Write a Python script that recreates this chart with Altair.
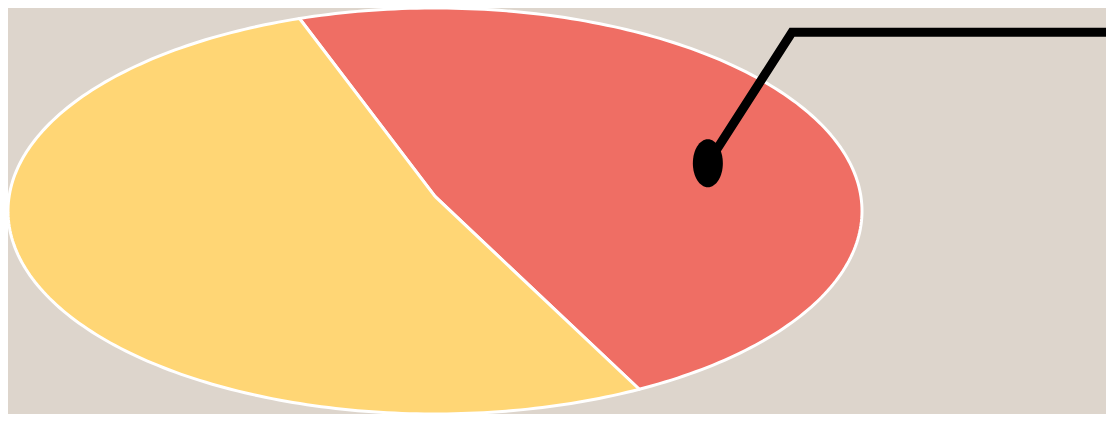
import math
import altair as alt
import pandas as pd

# ---- data ----
categories = ["Slice A", "Slice B"]
values = [47.2, 52.8]
colors = ["#ef6e64", "#ffd675"]
start_angle_deg = -18.5          # where the first slice starts (clockwise from 12 o'clock)
pie_center = (0.0, 0.072)        # apex of the slices, in unit ellipse coords
callout_x = [0.639, 0.836, 1.60]
callout_y = [0.235, 0.880, 0.880]

# ---- build slice outlines on the unit circle; x/y scales stretch it to an ellipse ----
rows = []
total = sum(values)
a = start_angle_deg
for cat, v in zip(categories, values):
    span = 360.0 * v / total
    n = max(2, int(span))
    rows.append({"cat": cat, "i": 0, "ux": pie_center[0], "uy": pie_center[1]})
    for k in range(n + 1):
        ang = math.radians(a + span * k / n)
        rows.append({"cat": cat, "i": k + 1, "ux": math.sin(ang), "uy": math.cos(ang)})
    rows.append({"cat": cat, "i": n + 2, "ux": pie_center[0], "uy": pie_center[1]})
    a += span
pie_df = pd.DataFrame(rows)

call_df = pd.DataFrame({"i": list(range(len(callout_x))), "ux": callout_x, "uy": callout_y})
dot_df = call_df.iloc[:1]

W, H = 1098, 406
RX = 427
xs = alt.Scale(domain=[-1.0, (W - RX) / RX], nice=False, zero=False)
ys = alt.Scale(domain=[-1.0, 1.0], nice=False, zero=False)

X = alt.X("ux:Q", scale=xs, axis=None)
Y = alt.Y("uy:Q", scale=ys, axis=None)

pie = alt.Chart(pie_df).mark_line(
    filled=True, stroke="white", strokeWidth=3, strokeJoin="round"
).encode(
    x=X, y=Y,
    color=alt.Color("cat:N", scale=alt.Scale(domain=categories, range=colors), legend=None),
    order="i:Q",
)

call = alt.Chart(call_df).mark_line(
    color="black", strokeWidth=9, strokeJoin="miter", clip=True
).encode(x=X, y=Y, order="i:Q")

ellipse_path = "M-0.625,0 A0.625,1 0 1,0 0.625,0 A0.625,1 0 1,0 -0.625,0 Z"
dot = alt.Chart(dot_df).mark_point(
    shape=ellipse_path, size=2304, filled=True, color="black", opacity=1
).encode(x=X, y=Y)

chart = alt.layer(pie, call, dot).properties(
    width=W, height=H, padding=0, autosize="none", background="#ddd5cc"
).configure_view(stroke=None)

chart.save("out.html", embed_options={"renderer": "svg", "actions": False})
